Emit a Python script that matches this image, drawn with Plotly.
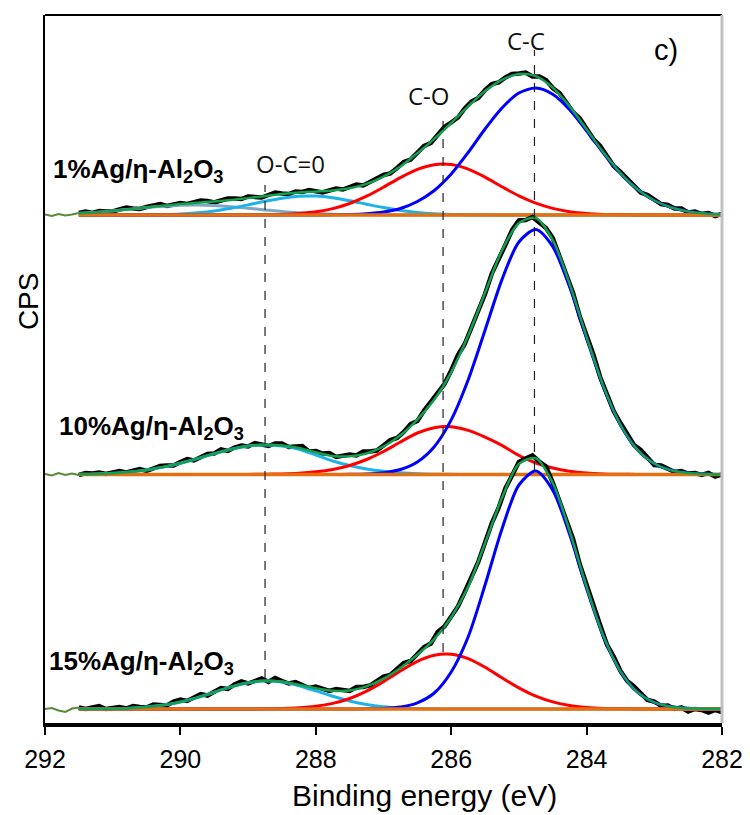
import numpy as np
import plotly.graph_objects as go

# ---------------- data ----------------
E_fit = [291.5, 291.25, 291.0, 290.75, 290.5, 290.25, 290.0, 289.75, 289.5, 289.25,
         289.0, 288.75, 288.5, 288.25, 288.0, 287.75, 287.5, 287.25, 287.0, 286.75,
         286.5, 286.25, 286.0, 285.75, 285.5, 285.25, 285.0, 284.75, 284.5, 284.25,
         284.0, 283.75, 283.5, 283.25, 283.0, 282.75, 282.5, 282.25, 282.0]
E_data = [round(292.0 - 0.1 * i, 1) for i in range(101)]

sample_names = ["1%Ag/η-Al<sub>2</sub>O<sub>3</sub>",
                "10%Ag/η-Al<sub>2</sub>O<sub>3</sub>",
                "15%Ag/η-Al<sub>2</sub>O<sub>3</sub>"]
offsets = [508, 248.5, 14]

# 1% sample components
top_gray = [1.7, 2.7, 4.1, 5.7, 7.4, 8.8, 9.8, 10.0, 9.5, 8.3, 6.7, 5.1, 3.5, 2.3, 1.4, 0.7, 0.4, 0.2, 0.1,
            0, 0, 0, 0, 0, 0, 0, 0, 0, 0, 0, 0, 0, 0, 0, 0, 0, 0, 0, 0]
top_cyan = [0, 0, 0.02, 0.08, 0.21, 0.5, 1.1, 2.3, 4.1, 6.8, 10.1, 13.7, 16.8, 18.7, 18.9, 17.3, 14.3, 10.8,
            7.4, 4.6, 2.6, 1.3, 0.6, 0.25, 0.1, 0, 0, 0, 0, 0, 0, 0, 0, 0, 0, 0, 0, 0, 0]
top_red = [0, 0, 0, 0, 0, 0, 0, 0, 0, 0, 0.08, 0.23, 0.6, 1.5, 3.2, 6.4, 11.5, 18.8, 27.8, 37.4, 45.6, 50.3,
           50.4, 45.8, 37.8, 28.2, 19.1, 11.8, 6.6, 3.3, 1.5, 0.6, 0.24, 0.08, 0.02, 0, 0, 0, 0]
top_blue = [0, 0, 0, 0, 0, 0, 0, 0, 0, 0, 0, 0, 0, 0, 0, 0.2, 0.5, 1.3, 3.0, 6.5, 13.5, 24.5, 41, 62.5, 86,
            107, 122, 127, 120.8, 105.3, 84.2, 61.8, 41.6, 25.7, 14.5, 7.5, 3.6, 1.6, 0.6]

# 10% sample components
mid_cyan = [0.28, 0.62, 1.3, 2.5, 4.5, 7.4, 11.2, 15.9, 20.8, 25.3, 28.4, 29.5, 28.4, 25.3, 19.5, 13.5, 9.0,
            5.5, 3.2, 1.7, 0.8, 0.35, 0.15, 0.05, 0, 0, 0, 0, 0, 0, 0, 0, 0, 0, 0, 0, 0, 0, 0]
mid_red = [0, 0, 0, 0, 0, 0, 0, 0, 0, 0, 0.1, 0.25, 0.6, 1.3, 2.7, 5.0, 9.0, 15.0, 23.0, 32.5, 41.5, 46.8,
           47.7, 44.1, 37.4, 29.1, 19.0, 11.5, 6.5, 3.3, 1.5, 0.6, 0.25, 0.1, 0, 0, 0, 0, 0]
mid_blue = [0, 0, 0, 0, 0, 0, 0, 0, 0, 0, 0, 0, 0, 0, 0, 0, 0.15, 0.55, 1.8, 5.0, 12.6, 27.8, 54.6, 94.5,
            144.3, 194.9, 232.5, 245, 227.9, 187.4, 136.1, 87.3, 49.5, 24.7, 10.9, 4.3, 1.5, 0.5, 0.1]

# 15% sample components
bot_cyan = [0.05, 0.13, 0.35, 0.87, 1.9, 3.9, 7.0, 11.4, 16.8, 22.1, 26.2, 28.0, 26.9, 23.2, 18.1, 12.7, 8.0,
            4.5, 2.3, 1.06, 0.44, 0.17, 0.06, 0, 0, 0, 0, 0, 0, 0, 0, 0, 0, 0, 0, 0, 0, 0, 0]
bot_red = [0, 0, 0, 0, 0, 0, 0, 0, 0, 0, 0.05, 0.16, 0.45, 1.15, 2.7, 5.6, 10.5, 17.9, 27.4, 38.0, 47.6, 53.7,
           54.7, 50.3, 41.7, 31.2, 21.1, 12.8, 7.1, 3.5, 1.6, 0.6, 0.23, 0.08, 0.03, 0, 0, 0, 0]
bot_blue = [0, 0, 0, 0, 0, 0, 0, 0, 0, 0, 0, 0, 0, 0, 0, 0, 0, 0.2, 0.6, 2.0, 6.2, 16, 37, 72, 124, 180, 224,
            238, 218.9, 174.5, 120.5, 72.1, 37.4, 16.8, 6.5, 2.2, 0.7, 0.2, 0.04]

# measured spectra (counts above background), 292.0 -> 282.0 eV in 0.1 eV steps
top_data = [0.5, -1.0, 1.0, -0.5, 0.5, 2.0, 3.5, 2.0, 4.0, 3.5,
            3.5, 5.5, 7.5, 6.5, 6.0, 8.0, 9.5, 11.0, 9.0, 10.5,
            12.0, 11.0, 12.5, 14.5, 14.0, 12.5, 14.5, 16.5, 16.5, 16.0,
            18.5, 18.0, 17.5, 20.0, 22.5, 21.5, 21.0, 23.5, 23.0, 25.0,
            24.0, 22.5, 24.5, 26.5, 25.5, 27.5, 30.5, 29.5, 32.5, 36.5,
            40.0, 41.5, 47.0, 53.0, 55.5, 62.0, 69.0, 72.0, 80.0, 88.0,
            92.5, 97.5, 106.5, 113.5, 117.0, 125.0, 131.0, 132.5, 137.5, 141.0,
            141.5, 142.5, 138.5, 138.5, 135.0, 127.0, 122.0, 113.0, 103.0, 96.5,
            87.0, 76.0, 69.0, 58.5, 49.0, 43.0, 36.0, 30.5, 22.5, 20.0,
            16.0, 11.0, 10.0, 6.5, 6.5, 2.5, 3.5, 1.0, 2.0, -1.0,
            1.0]
mid_data = [0.5, -1.0, 1.5, -0.5, 1.0, -0.5, 1.5, 1.0, 2.0, 0.5,
            2.0, 3.5, 2.0, 3.5, 5.5, 3.5, 6.0, 8.5, 9.0, 9.0,
            12.5, 15.5, 14.0, 17.5, 20.5, 21.0, 25.0, 23.5, 27.0, 29.0,
            28.0, 31.5, 30.5, 28.5, 31.0, 31.0, 27.5, 27.5, 28.5, 23.0,
            23.5, 21.0, 21.5, 17.5, 19.0, 20.0, 19.0, 23.0, 23.0, 24.0,
            29.0, 34.5, 36.5, 42.5, 50.5, 53.5, 64.0, 73.0, 80.5, 90.5,
            104.0, 119.5, 130.5, 147.5, 166.0, 180.5, 201.0, 216.5, 229.5, 244.5,
            254.0, 254.5, 257.5, 252.0, 246.5, 236.5, 218.5, 200.5, 181.5, 158.0,
            139.0, 120.0, 97.5, 81.0, 63.5, 51.5, 40.0, 29.5, 24.5, 16.5,
            9.5, 9.0, 5.5, 2.5, 3.5, 1.0, 1.5, -0.5, 1.5, -2.0,
            0.0]
bot_data = [0.0, 1.0, -1.5, -3.0, 0.5, 1.5, 0.0, 1.5, 3.0, 0.0,
            1.0, 2.0, 0.5, 3.0, 2.0, 1.5, 4.5, 4.0, 3.5, 7.5,
            9.5, 8.0, 11.5, 15.0, 13.5, 17.5, 21.0, 20.0, 24.5, 27.5,
            25.5, 28.0, 30.5, 27.0, 31.0, 28.0, 25.5, 27.0, 24.5, 21.0,
            22.5, 20.0, 18.0, 20.0, 19.0, 18.0, 22.0, 22.0, 23.5, 28.5,
            32.5, 34.0, 39.5, 46.0, 48.0, 54.5, 62.0, 65.5, 77.0, 82.5,
            93.5, 102.5, 117.0, 133.0, 147.0, 166.5, 186.0, 201.0, 220.5, 233.5,
            247.0, 250.5, 253.5, 247.5, 242.5, 226.5, 207.0, 190.0, 170.0, 144.5,
            123.5, 101.5, 84.0, 64.5, 52.5, 38.0, 28.0, 22.5, 16.5, 9.0,
            7.5, 3.0, 3.5, 0.0, 1.5, -2.5, 0.0, -1.0, -3.5, -1.0,
            -3.0]

peak_names = ["O-C=0", "C-O", "C-C"]
peak_pos = [288.75, 286.12, 284.77]

x_ticks = [292, 290, 288, 286, 284, 282]

# ---------------- styles ----------------
C_DATA = "#000000"
C_FIT = "#12a04f"
C_BLUE = "#0000ff"
C_RED = "#ff0000"
C_CYAN = "#1db2e8"
C_GRAY = "#7ea7c6"
C_BG = "#e4700f"
FONT = "Liberation Sans, Arial"

spectra = [
    dict(data=top_data, comps=[(top_gray, C_GRAY), (top_cyan, C_CYAN), (top_red, C_RED), (top_blue, C_BLUE)]),
    dict(data=mid_data, comps=[(mid_cyan, C_CYAN), (mid_red, C_RED), (mid_blue, C_BLUE)]),
    dict(data=bot_data, comps=[(bot_cyan, C_CYAN), (bot_red, C_RED), (bot_blue, C_BLUE)]),
]

fig = go.Figure()
n_pre = 6
for s, off in zip(spectra, offsets):
    d = np.array(s["data"], dtype=float) + off
    fig.add_trace(go.Scatter(x=E_data[n_pre - 1:], y=d[n_pre - 1:], mode="lines",
                             line=dict(color=C_DATA, width=4.5), hoverinfo="skip"))
    fig.add_trace(go.Scatter(x=E_data[:n_pre], y=d[:n_pre], mode="lines",
                             line=dict(color="#5a8a3a", width=2), hoverinfo="skip"))
    total = np.zeros(len(E_fit))
    for comp, col in s["comps"]:
        c = np.array(comp, dtype=float)
        total += c
        fig.add_trace(go.Scatter(x=E_fit, y=c + off, mode="lines",
                                 line=dict(color=col, width=3, shape="spline", smoothing=0.8),
                                 hoverinfo="skip"))
    fig.add_trace(go.Scatter(x=E_fit, y=np.full(len(E_fit), off), mode="lines",
                             line=dict(color=C_BG, width=3.5), hoverinfo="skip"))
    fig.add_trace(go.Scatter(x=E_fit, y=total + off, mode="lines",
                             line=dict(color=C_FIT, width=2.5, shape="spline", smoothing=0.8),
                             hoverinfo="skip"))

# dashed reference lines at peak positions
dash_extent = [(45, 538), (71, 603), (253, 673)]
for pos, (y0, y1) in zip(peak_pos, dash_extent):
    fig.add_shape(type="line", xref="x", yref="y", x0=pos, x1=pos, y0=y0, y1=y1,
                  line=dict(color="#222222", width=1.2, dash="dash"), layer="above")

label_xy = [(288.38, 560), (286.33, 628), (284.89, 683)]
for name, (lx, ly) in zip(peak_names, label_xy):
    fig.add_annotation(x=lx, y=ly, xref="x", yref="y", text=name, showarrow=False,
                       font=dict(family="Open Sans", size=24, color="#111111"))

fig.add_annotation(x=282.82, y=673, xref="x", yref="y", text="c)", showarrow=False,
                   font=dict(family=FONT, size=29, color="black"))

name_pos = [(0.009, 553), (0.017, 296), (0.003, 61)]
for name, (nx, ny) in zip(sample_names, name_pos):
    fig.add_annotation(x=nx, y=ny, xref="paper", yref="y", text="<b>" + name + "</b>",
                       showarrow=False, xanchor="left", yanchor="middle",
                       font=dict(family=FONT, size=26, color="black"))

# axis titles
fig.add_annotation(x=-0.025, y=0.596, xref="paper", yref="paper", text="CPS", textangle=-90,
                   xanchor="center", yanchor="middle",
                   showarrow=False, font=dict(family=FONT, size=28, color="black"))
fig.add_annotation(x=0.56, y=-0.102, xref="paper", yref="paper", text="Binding energy (eV)",
                   xanchor="center", yanchor="middle",
                   showarrow=False, font=dict(family=FONT, size=30, color="black"))

# frame
fig.add_shape(type="line", xref="paper", yref="paper", x0=0, x1=1, y0=1, y1=1,
              line=dict(color="black", width=2))
fig.add_shape(type="line", xref="paper", yref="paper", x0=1, x1=1, y0=0, y1=1,
              line=dict(color="#c0c0c0", width=3))

# the page body adds an 8 px margin, so the figure is 8 px smaller and shifted
fig.update_layout(
    width=742, height=807,
    margin=dict(l=37, r=26, t=7, b=92),
    paper_bgcolor="white", plot_bgcolor="white",
    showlegend=False,
    xaxis=dict(range=[292, 282], tickvals=x_ticks, ticktext=[str(t) for t in x_ticks],
               ticks="outside", ticklen=8, tickwidth=2, tickcolor="black", ticklabelstandoff=3,
               showline=True, linewidth=3.5, linecolor="black", showgrid=False, zeroline=False,
               tickfont=dict(family=FONT, size=25, color="black")),
    yaxis=dict(range=[0, 708], showticklabels=False, ticks="", showgrid=False, zeroline=False,
               showline=True, linewidth=2, linecolor="black"),
)

fig.write_html("out.html")
